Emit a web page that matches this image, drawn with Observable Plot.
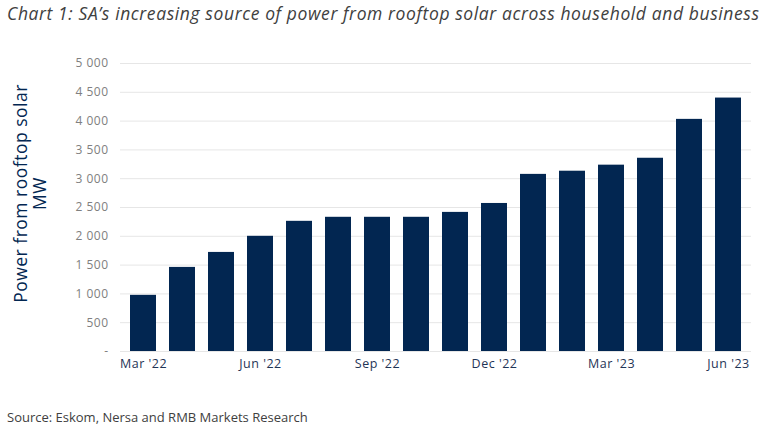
<!DOCTYPE html>
<html>
<head>
<meta charset="utf-8">
<script src="https://cdn.jsdelivr.net/npm/d3@7"></script>
<script src="https://cdn.jsdelivr.net/npm/@observablehq/plot@0.6"></script>
<style>
  body { margin: 0; background: #fff; width: 774px; height: 433px; overflow: hidden; font-family: "Open Sans", sans-serif; }
  #title { font-style: italic; font-size: 17.5px; color: #404040; padding-left: 7px; height: 30px; line-height: 26px; white-space: nowrap; letter-spacing: 0.6px; }
  #source { font-size: 13px; color: #404040; padding-left: 7px; padding-top: 33px; letter-spacing: 0px; }
  #chart svg text { letter-spacing: 0.5px; }
</style>
</head>
<body>
<div id="title">Chart 1: SA’s increasing source of power from rooftop solar across household and business</div>
<div id="chart"></div>
<div id="source">Source: Eskom, Nersa and RMB Markets Research</div>
<script>
const months = ["Mar '22","Apr '22","May '22","Jun '22","Jul '22","Aug '22","Sep '22","Oct '22","Nov '22","Dec '22","Jan '23","Feb '23","Mar '23","Apr '23","May '23","Jun '23"];
const values = [975, 1460, 1720, 2000, 2260, 2330, 2330, 2330, 2415, 2570, 3075, 3130, 3235, 3355, 4030, 4400];
const xTickLabels = ["Mar '22","Jun '22","Sep '22","Dec '22","Mar '23","Jun '23"];
const yTicks = [0, 500, 1000, 1500, 2000, 2500, 3000, 3500, 4000, 4500, 5000];
const yLabel = "Power from rooftop solar\nMW";

const data = months.map((m, i) => ({month: m, value: values[i]}));
const navy = "#022651";
const fmt = d => d === 0 ? "-" : d3.format(",")(d).replace(/,/g, " ");

const chart = Plot.plot({
  width: 774,
  height: 345,
  marginTop: 33,
  marginBottom: 24,
  marginLeft: 120,
  marginRight: 23,
  style: {fontFamily: "'Open Sans', sans-serif", background: "#fff"},
  x: {domain: months, paddingInner: 0.34, paddingOuter: 0.17, label: null},
  y: {domain: [0, 5000], label: null},
  marks: [
    Plot.gridY(yTicks, {stroke: "#e6e6e6", strokeOpacity: 1, strokeWidth: 1}),
    Plot.barY(data, {x: "month", y: "value", fill: navy}),
    Plot.axisY(yTicks, {tickSize: 0, tickPadding: 12, tickFormat: fmt, fill: "#808080", fontSize: 12, label: null}),
    Plot.axisX(xTickLabels, {tickSize: 0, tickPadding: 8, fill: "#1f3556", fontSize: 12.5, label: null}),
    Plot.text([yLabel], {frameAnchor: "left", dx: -90, dy: -14, rotate: -90, fill: navy, fontSize: 17.5, lineHeight: 1.05, textAnchor: "middle"})
  ]
});
document.getElementById("chart").appendChild(chart);
</script>
</body>
</html>
